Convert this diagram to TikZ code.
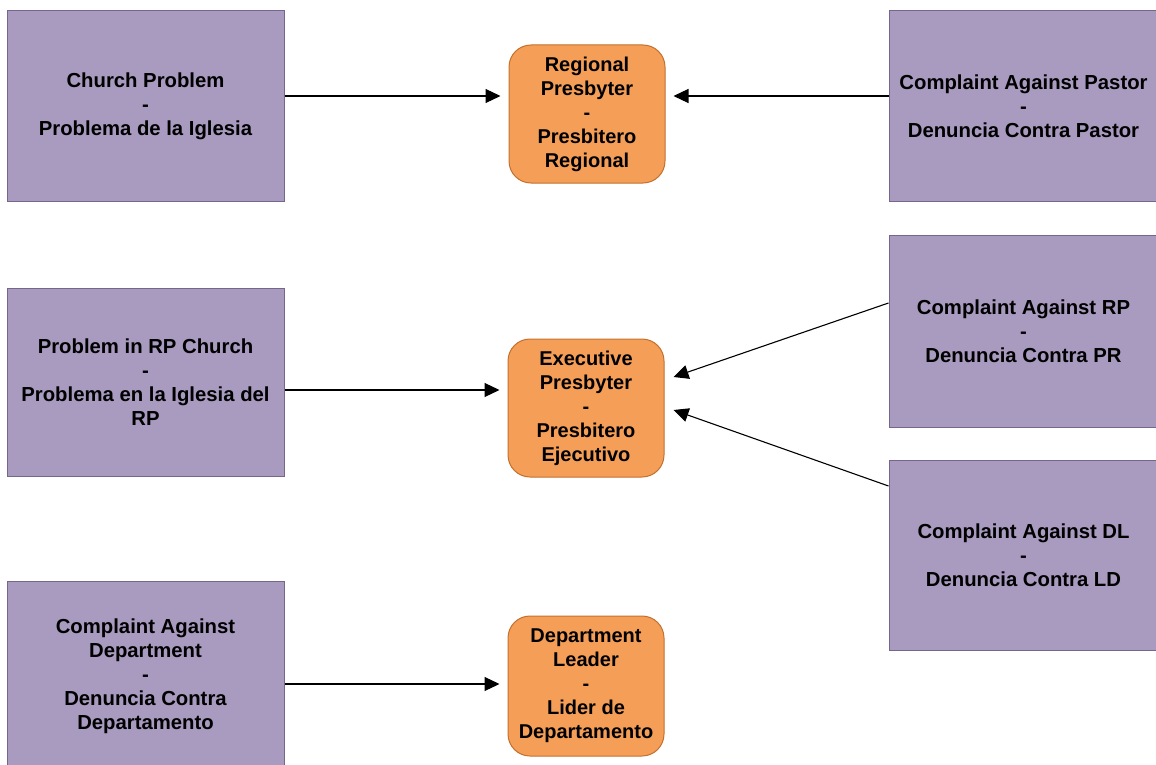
\documentclass[tikz,border=0pt]{standalone}
\usepackage{fontspec}
\setmainfont{Liberation Sans}
\usetikzlibrary{arrows.meta, positioning}
\definecolor{issuefill}{RGB}{169,154,192}
\definecolor{issueline}{RGB}{118,102,140}
\definecolor{officefill}{RGB}{245,158,88}
\definecolor{officeline}{RGB}{196,112,44}

\begin{document}
\begin{tikzpicture}[
    x=1pt, y=1pt,
    issue/.style={rectangle, draw=issueline, fill=issuefill, line width=1pt, minimum width=277pt, minimum height=191pt, align=center, inner sep=2pt, font=\fontsize{20.3}{24}\selectfont\bfseries},
    office/.style={rectangle, draw=officeline, fill=officefill, line width=1pt, rounded corners=22pt, minimum width=156pt, minimum height=138pt, align=center, inner sep=1pt, font=\fontsize{20}{24}\selectfont\bfseries},
    arr/.style={-{Triangle[length=15pt,width=14pt]}, line width=1.1pt, black}
]
    \useasboundingbox (0,0) rectangle (1156,-765);

    \node[issue] (church) at (145.5,-106) {Church Problem\\-\\Problema de la Iglesia};
    \node[office, right=224pt of church.east, anchor=west, yshift=-8pt] (regional) {Regional\\Presbyter\\-\\Presbitero\\Regional};
    \node[issue, minimum width=269pt] (pastor) at (1023.5,-106) {Complaint Against Pastor\\-\\Denuncia Contra Pastor};

    \node[issue, minimum height=188pt] (rpchurch) at (145.5,-382) {Problem in RP Church\\-\\Problema en la Iglesia del\\RP};
    \node[office] (executive) at (586,-408) {Executive\\Presbyter\\-\\Presbitero\\Ejecutivo};
    \node[issue, minimum width=269pt, minimum height=192pt] (againstrp) at (1023.5,-331) {Complaint Against RP\\-\\Denuncia Contra PR};
    \node[issue, minimum width=269pt, minimum height=190pt] (againstdl) at (1023.5,-555) {Complaint Against DL\\-\\Denuncia Contra LD};

    \node[issue, minimum height=190pt] (department) at (145.5,-676) {Complaint Against\\Department\\-\\Denuncia Contra\\Departamento};
    \node[office, minimum height=140pt] (leader) at (586,-686) {Department\\Leader\\-\\Lider de\\Departamento};

    \draw[arr, shorten >=8pt] ([yshift=10pt]church.east) -- ([yshift=10pt]church.east -| regional.west);
    \draw[arr, shorten >=8pt] ([yshift=10pt]pastor.west) -- ([yshift=10pt]pastor.west -| regional.east);
    \draw[arr, shorten >=8pt] ([yshift=-8pt]rpchurch.east) -- ([yshift=-8pt]rpchurch.east -| executive.west);
    \draw[arr] ([yshift=28pt]againstrp.west) -- ([xshift=9pt,yshift=31pt]executive.east);
    \draw[arr] ([yshift=69pt]againstdl.west) -- ([xshift=9pt,yshift=-2pt]executive.east);
    \draw[arr, shorten >=8pt] ([yshift=-8pt]department.east) -- ([yshift=-8pt]department.east -| leader.west);
\end{tikzpicture}
\end{document}
